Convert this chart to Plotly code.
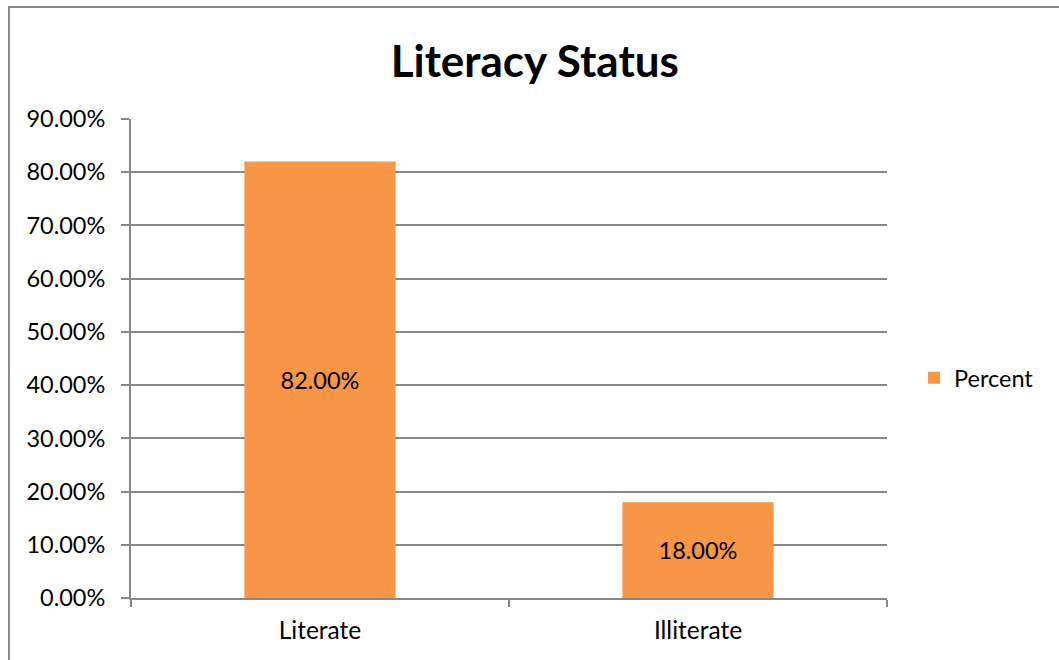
import plotly.graph_objects as go

categories = ["Literate", "Illiterate"]
percent_values = [0.82, 0.18]
series_name = "Percent"
y_tick_values = [0, 0.1, 0.2, 0.3, 0.4, 0.5, 0.6, 0.7, 0.8, 0.9]

W, H = 1059, 660
L, R, T, B = 131, 172, 119, 62
pw, ph = W - L - R, H - T - B

font_family = "Lato, 'Open Sans', Arial, sans-serif"
grid_col = "#888888"
fs = 23.5

fig = go.Figure()
fig.add_trace(go.Bar(
    x=categories, y=percent_values, name=series_name,
    marker=dict(color="#F79646", line=dict(width=0)),
    width=0.4,
    text=[f"{v*100:.2f}%" for v in percent_values],
    textposition="inside", insidetextanchor="middle",
    textfont=dict(color="black", size=fs, family=font_family),
    showlegend=True,
))

fig.update_layout(
    width=W, height=H,
    margin=dict(l=L, r=R, t=T, b=B, autoexpand=False),
    paper_bgcolor="white", plot_bgcolor="white",
    font=dict(family=font_family, size=fs, color="black"),
    title=dict(text="<b>Literacy Status</b>", x=0.505, xanchor="center",
               y=1 - 62 / H, yanchor="middle",
               font=dict(size=44, family=font_family, color="black")),
    xaxis=dict(
        showline=True, linecolor=grid_col, linewidth=2,
        ticks="outside", tickson="boundaries", ticklen=7, tickwidth=1.5, tickcolor=grid_col,
        showgrid=False, tickfont=dict(size=fs + 1), range=[-0.5, 1.5],
        ticklabelstandoff=10,
    ),
    yaxis=dict(
        range=[0, 0.9], tickvals=y_tick_values, tickformat=".2%",
        showline=True, linecolor=grid_col, linewidth=2,
        ticks="outside", ticklen=8, tickwidth=1.5, tickcolor=grid_col,
        showgrid=True, gridcolor=grid_col, gridwidth=1.5,
        zeroline=False, tickfont=dict(size=fs), ticklabelstandoff=11,
    ),
    legend=dict(x=(914 - L) / pw, y=(T + ph - 378) / ph, xanchor="left", yanchor="middle",
                font=dict(size=fs), bgcolor="rgba(0,0,0,0)", itemwidth=30),
    bargap=0.6,
    shapes=[dict(type="rect", xref="paper", yref="paper",
                 x0=(9 - L) / pw, x1=(W + 20 - L) / pw,
                 y0=-(H + 20 - T - ph) / ph, y1=(T + ph - 7) / ph,
                 line=dict(color="#8a8a8a", width=2), fillcolor="rgba(0,0,0,0)", layer="below")],
)

fig.write_html("out.html", config={"displayModeBar": False},
               post_script="document.body.style.margin='0';document.body.style.padding='0';")
